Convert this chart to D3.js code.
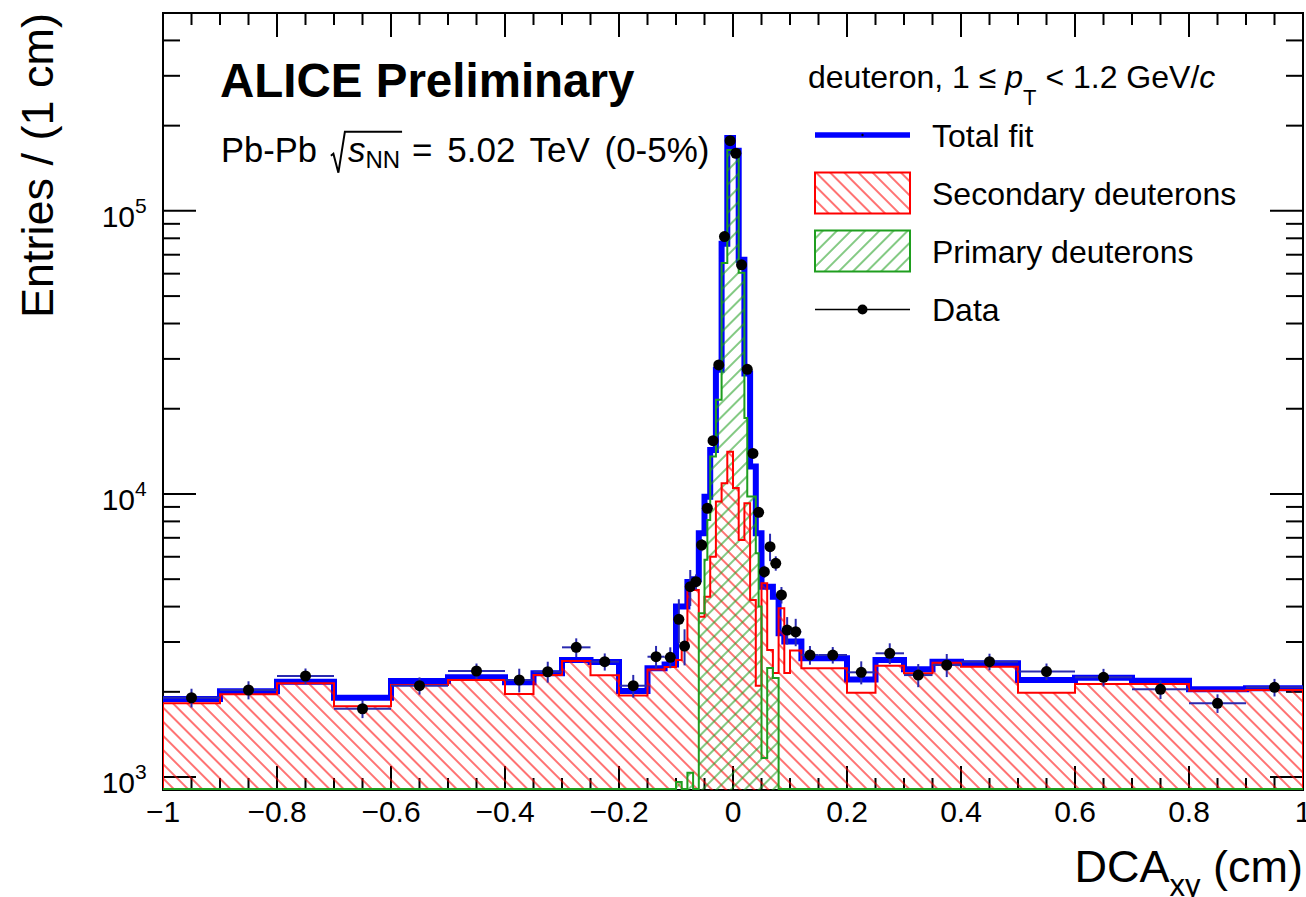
<!DOCTYPE html>
<html>
<head>
<meta charset="utf-8">
<script src="https://cdn.jsdelivr.net/npm/d3@7"></script>
<style>
  body { margin: 0; background: #fff; }
  text { font-family: "Liberation Sans", Arial, Helvetica, sans-serif; fill: #000; }
</style>
</head>
<body>
<svg id="chart" width="1306" height="897"></svg>
<script>
// bin edges of the data histogram (DCAxy, cm)
var binEdges = [-1, -0.9, -0.8, -0.7, -0.6, -0.5, -0.4, -0.35, -0.3, -0.25, -0.2, -0.15, -0.12, -0.1,
    -0.09, -0.08, -0.07, -0.06, -0.05, -0.04, -0.03, -0.02, -0.01, 0, 0.01, 0.02, 0.03, 0.04, 0.05,
    0.06, 0.07, 0.08, 0.09, 0.1, 0.12, 0.15, 0.2, 0.25, 0.3, 0.35, 0.4, 0.5, 0.6, 0.7, 0.8, 0.9, 1];
var dataCounts = [1906, 2030, 2275, 1743, 2102, 2369,
    2202, 2355, 2872, 2555, 2102,
    2661, 2648,
    3608, 2903, 4704, 4898, 6602, 8903, 15420, 28560, 81150, 177000,
    159800, 64460, 27560, 13900, 8616, 5313, 6513, 5690, 4397, 3306,
    3260, 2698,
    2698, 2344, 2736, 2292, 2488,
    2555, 2359, 2250, 2042, 1822, 2074];
var dataErrors = [145, 149, 143, 128, 147, 149,
    212, 200, 218, 178, 193,
    244, 225,
    640, 423, 685, 300, 330, 360, 460, 570, 810, 1060,
    960, 770, 550, 420, 345, 265, 723, 333, 295, 367,
    362, 205,
    181, 219, 232, 215, 233,
    172, 159, 161, 155, 138, 148];
var fitCounts = [1887, 2008, 2170, 1906, 2182, 2250,
    2160, 2325, 2590, 2550, 2012,
    2424, 2500,
    4000, 4000, 4890, 5000, 7263, 9780, 14290, 27470, 76610, 181000,
    163000, 67200, 26650, 12500, 7260, 4700, 4700, 4330, 3220, 3010,
    3010, 2626,
    2626, 2212, 2590, 2405, 2555,
    2521, 2200, 2243, 2188, 2041, 2057];
var secondaryCounts = [1821, 1960, 2143, 1780, 2113, 2202,
    1965, 2292, 2570, 2290, 1940,
    2400, 2450,
    2590, 2930, 4575, 4575, 3680, 4330, 6000, 9400, 10900, 14090,
    10500, 6870, 9270, 4220, 2100, 4840, 2810, 2330, 3950, 2330,
    2800, 2425,
    2424, 1985, 2472, 2325, 2533,
    2452, 1985, 2131, 2131, 2018, 2030];
// primary template has its own (finer) binning in the core
var primaryEdges = [-1, -0.1, -0.09, -0.08, -0.07, -0.06, -0.05, -0.045, -0.04, -0.03, -0.02, -0.01,
    0.01, 0.02, 0.025, 0.04, 0.045, 0.05, 0.06, 0.07, 0.08, 1];
var primaryCounts = [0, 960, 0, 1035, 0, 3787, 5850, 8090, 13550, 21500, 65500,
    164000, 60400, 18540, 9790, 6170, 4000, 1167, 2427, 2240, 0];

var xMajorTicks = [-1, -0.8, -0.6, -0.4, -0.2, 0, 0.2, 0.4, 0.6, 0.8, 1];
var xTickLabels = ['\u22121', '\u22120.8', '\u22120.6', '\u22120.4', '\u22120.2', '0', '0.2', '0.4', '0.6', '0.8', '1'];
var yMajorTicks = [1e3, 1e4, 1e5];
var yTickExponents = ['3', '4', '5'];
var legendLabels = ['Total fit', 'Secondary deuterons', 'Primary deuterons', 'Data'];

var frame = {left: 163, right: 1303, top: 13, bottom: 790},
    colBlue = '#0000ff', colRed = '#ff0000', colGreen = '#1f9e1f', colErr = '#2a2ab0';

var svg = d3.select('#chart');
var x = d3.scaleLinear().domain([-1, 1]).range([frame.left, frame.right]);
var y = d3.scaleLog().domain([900, 5e5]).range([frame.bottom, frame.top]).clamp(true);

var defs = svg.append('defs');
function hatch(id, color, angle) {
    defs.append('pattern')
        .attr('id', id)
        .attr('patternUnits', 'userSpaceOnUse')
        .attr('width', 10).attr('height', 10)
        .attr('patternTransform', 'rotate(' + angle + ')')
      .append('line')
        .attr('x1', 0).attr('y1', 5).attr('x2', 10).attr('y2', 5)
        .style('stroke', color).style('stroke-width', 1.1);
}
hatch('hatchRed', colRed, 45);
hatch('hatchGreen', colGreen, -45);

defs.append('clipPath').attr('id', 'plotClip')
  .append('rect')
    .attr('x', frame.left).attr('y', frame.top)
    .attr('width', frame.right - frame.left).attr('height', frame.bottom - frame.top + 1);

function stepPoints(edges, values) {
    var pts = [];
    values.forEach(function (v, i) {
        pts.push([x(edges[i]), y(v)]);
        pts.push([x(edges[i + 1]), y(v)]);
    });
    return pts;
}
var line = d3.line();
var area = d3.area().x(function (d) { return d[0]; }).y0(frame.bottom).y1(function (d) { return d[1]; });

// ---- frame and ticks
var axes = svg.append('g').attr('class', 'axes')
    .style('stroke', '#000').style('stroke-width', 2).style('fill', 'none');
axes.append('rect')
    .attr('x', frame.left).attr('y', frame.top)
    .attr('width', frame.right - frame.left).attr('height', frame.bottom - frame.top);

var xMinorTicks = d3.range(-1, 1.0001, 0.05).filter(function (v) {
    return Math.abs(Math.round(v * 5) - v * 5) > 1e-6;
});
function xTick(v, len) {
    axes.append('line').attr('x1', x(v)).attr('x2', x(v))
        .attr('y1', frame.bottom).attr('y2', frame.bottom - len);
    axes.append('line').attr('x1', x(v)).attr('x2', x(v))
        .attr('y1', frame.top).attr('y2', frame.top + len);
}
xMajorTicks.forEach(function (v) { xTick(v, 24); });
xMinorTicks.forEach(function (v) { xTick(v, 12); });

var yMinorTicks = [];
[100, 1000, 10000, 100000].forEach(function (dec) {
    d3.range(2, 10).forEach(function (k) {
        var v = k * dec;
        if (v > 900 && v < 5e5) { yMinorTicks.push(v); }
    });
});
function yTick(v, len) {
    axes.append('line').attr('y1', y(v)).attr('y2', y(v))
        .attr('x1', frame.left).attr('x2', frame.left + len);
    axes.append('line').attr('y1', y(v)).attr('y2', y(v))
        .attr('x1', frame.right).attr('x2', frame.right - len);
}
yMajorTicks.forEach(function (v) { yTick(v, 33); });
yMinorTicks.forEach(function (v) { yTick(v, 17); });

// tick labels
svg.append('g').selectAll('text').data(xMajorTicks).enter().append('text')
    .attr('x', function (d) { return x(d); })
    .attr('y', 822)
    .attr('text-anchor', 'middle')
    .style('font-size', '30px')
    .text(function (d, i) { return xTickLabels[i]; });
var yl = svg.append('g').selectAll('g').data(yMajorTicks).enter().append('g');
yl.append('text')
    .attr('x', 135).attr('y', function (d) { return y(d) + 16; })
    .attr('text-anchor', 'end')
    .style('font-size', '30px')
    .text('10');
yl.append('text')
    .attr('x', 135).attr('y', function (d) { return y(d) + 2; })
    .style('font-size', '21px')
    .text(function (d, i) { return yTickExponents[i]; });

// axis titles
var xt = svg.append('text')
    .attr('x', frame.right).attr('y', 882)
    .attr('text-anchor', 'end')
    .style('font-size', '45px');
xt.append('tspan').text('DCA');
xt.append('tspan').attr('dy', 14).style('font-size', '31px').text('xy');
xt.append('tspan').attr('dy', -14).text(' (cm)');

svg.append('text')
    .attr('transform', 'translate(53,13) rotate(-90)')
    .attr('text-anchor', 'end')
    .style('font-size', '45px')
    .text('Entries / (1 cm)');

// ---- histograms
var plot = svg.append('g').attr('clip-path', 'url(#plotClip)');

var fitPts = stepPoints(binEdges, fitCounts);
var secPts = stepPoints(binEdges, secondaryCounts);
var primPts = stepPoints(primaryEdges, primaryCounts);

plot.append('path').attr('d', line(fitPts))
    .style('fill', 'none').style('stroke', colBlue).style('stroke-width', 6);

plot.append('path').attr('d', area(secPts)).style('fill', 'url(#hatchRed)');
plot.append('path').attr('d', area(primPts)).style('fill', 'url(#hatchGreen)');
plot.append('path').attr('d', line([[x(-1), frame.bottom]].concat(secPts, [[x(1), frame.bottom]])))
    .style('fill', 'none').style('stroke', colRed).style('stroke-width', 2);
plot.append('path').attr('d', line([[x(-1), frame.bottom - 1]].concat(primPts.map(function (p) {
        return [p[0], Math.min(p[1], frame.bottom - 1)];
    }), [[x(1), frame.bottom - 1]])))
    .style('fill', 'none').style('stroke', colGreen).style('stroke-width', 2);

// ---- data points
var pts = plot.append('g').selectAll('g').data(dataCounts).enter().append('g');
pts.append('line')
    .attr('x1', function (d, i) { return x(binEdges[i]); })
    .attr('x2', function (d, i) { return x(binEdges[i + 1]); })
    .attr('y1', function (d) { return y(d); })
    .attr('y2', function (d) { return y(d); })
    .style('stroke', colErr).style('stroke-width', 2);
pts.append('line')
    .attr('x1', function (d, i) { return x((binEdges[i] + binEdges[i + 1]) / 2); })
    .attr('x2', function (d, i) { return x((binEdges[i] + binEdges[i + 1]) / 2); })
    .attr('y1', function (d, i) { return y(d - dataErrors[i]); })
    .attr('y2', function (d, i) { return y(d + dataErrors[i]); })
    .style('stroke', colErr).style('stroke-width', 2);
pts.append('circle')
    .attr('cx', function (d, i) { return x((binEdges[i] + binEdges[i + 1]) / 2); })
    .attr('cy', function (d) { return y(d); })
    .attr('r', 5.5)
    .style('fill', '#000');

// ---- texts
svg.append('text')
    .attr('x', 220).attr('y', 97)
    .style('font-size', '47.5px').style('font-weight', 'bold')
    .text('ALICE Preliminary');

var sys = svg.append('g');
var base = 161.7;
var t1 = sys.append('text').attr('x', 221).attr('y', base).style('font-size', '34.5px').text('Pb-Pb');
var x0 = 221 + t1.node().getComputedTextLength() + 14;
var t2 = sys.append('text').attr('x', x0 + 17).attr('y', base).style('font-size', '35px');
t2.append('tspan').style('font-style', 'italic').text('s');
t2.append('tspan').attr('dy', 6).style('font-size', '24px').text('NN');
var x1 = x0 + 17 + t2.node().getComputedTextLength();
sys.append('path')
    .attr('d', 'M' + x0 + ',' + (base - 6) + 'L' + (x0 + 2.5) + ',' + (base - 8) +
        'L' + (x0 + 7.5) + ',' + (base + 11) + 'L' + (x0 + 14) + ',' + (base - 30) + 'L' + (x1 + 2) + ',' + (base - 30))
    .style('fill', 'none').style('stroke', '#000').style('stroke-width', 2);
sys.append('text').attr('x', x1 + 12).attr('y', base)
    .style('font-size', '35px').style('word-spacing', '5px')
    .text('= 5.02 TeV (0-5%)');

// ---- legend
var lg = svg.append('g');
var hd = lg.append('text').attr('x', 808).attr('y', 88).style('font-size', '32px');
hd.append('tspan').text('deuteron, 1 \u2264 ');
hd.append('tspan').style('font-style', 'italic').text('p');
hd.append('tspan').attr('dy', 17).style('font-size', '22px').text('T');
hd.append('tspan').attr('dy', -17).text(' < 1.2 GeV/');
hd.append('tspan').style('font-style', 'italic').text('c');

var rowY = [135, 193, 251, 309.5];
lg.append('line').attr('x1', 815).attr('x2', 910).attr('y1', rowY[0]).attr('y2', rowY[0])
    .style('stroke', colBlue).style('stroke-width', 5.5);
lg.append('circle').attr('cx', 862.5).attr('cy', rowY[0]).attr('r', 1.2).style('fill', '#000');
[[colRed, 'url(#hatchRed)'], [colGreen, 'url(#hatchGreen)']].forEach(function (c, i) {
    lg.append('rect')
        .attr('x', 815).attr('y', rowY[i + 1] - 20.5)
        .attr('width', 95).attr('height', 41)
        .style('fill', c[1]).style('stroke', c[0]).style('stroke-width', 2);
});
lg.append('line').attr('x1', 815).attr('x2', 910).attr('y1', rowY[3]).attr('y2', rowY[3])
    .style('stroke', '#000').style('stroke-width', 1.5);
lg.append('circle').attr('cx', 862.5).attr('cy', rowY[3]).attr('r', 5).style('fill', '#000');
lg.selectAll('text.lab').data(legendLabels).enter().append('text')
    .attr('class', 'lab')
    .attr('x', 932)
    .attr('y', function (d, i) { return rowY[i] + 11.7; })
    .style('font-size', '32px')
    .text(function (d) { return d; });
</script>
</body>
</html>
